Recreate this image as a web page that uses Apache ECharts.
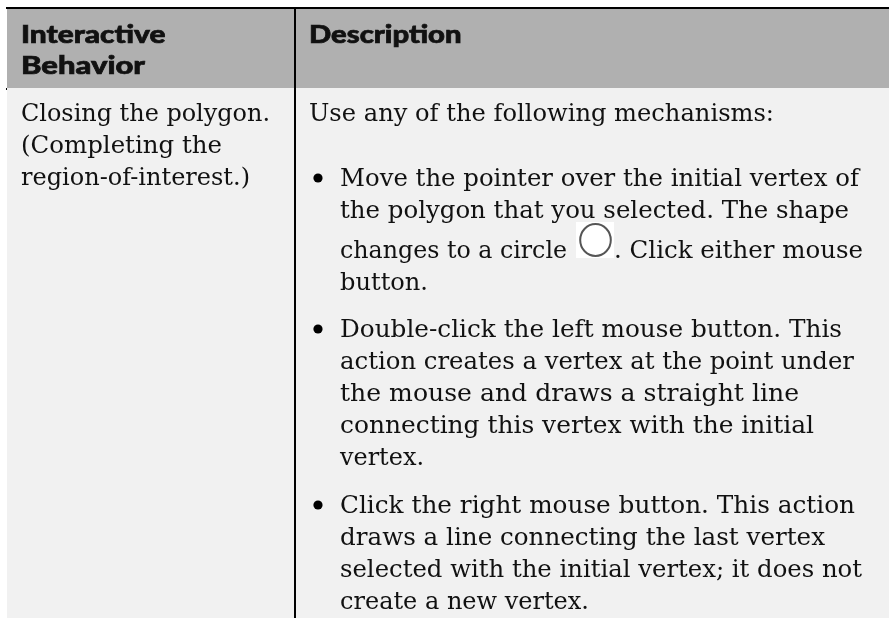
<!DOCTYPE html>
<html><head><meta charset="utf-8">
<style>html,body{margin:0;padding:0;background:#fff}#c{width:889px;height:618px}</style>
<script src="https://cdn.jsdelivr.net/npm/echarts@6/dist/echarts.min.js"></script>
</head><body><div id="c"></div>
<script>
const headerLeft = ["Interactive", "Behavior"];
const headerRight = ["Description"];
const leftLines = ["Closing the polygon.", "(Completing the", "region-of-interest.)"];
const intro = ["Use any of the following mechanisms:"];
const bullet1 = ["Move the pointer over the initial vertex of", "the polygon that you selected. The shape", "changes to a circle", ". Click either mouse", "button."];
const bullet2 = ["Double-click the left mouse button. This", "action creates a vertex at the point under", "the mouse and draws a straight line", "connecting this vertex with the initial", "vertex."];
const bullet3 = ["Click the right mouse button. This action", "draws a line connecting the last vertex", "selected with the initial vertex; it does not", "create a new vertex."];

const SERIF = '"DejaVu Serif"', HF = '900 25px Lato';
const measure = document.createElement('canvas').getContext('2d');
const els = [];
const rect = (x,y,w,h,fill)=>els.push({type:'rect',shape:{x,y,width:w,height:h},style:{fill},silent:true});
const txt = (s,x,y,right,o={})=>{
  const font=o.font||'24px '+SERIF;
  measure.font=font;
  measure.textRendering=o.heavy?'optimizeSpeed':'auto';
  const w=measure.measureText(s).width;
  els.push({type:'text',x,y,zlevel:o.heavy?1:0,scaleX:(right-x)/w,style:{text:s,x:0,y:0,fill:'#111',font,verticalAlign:'middle',stroke:o.stroke?'#111':null,lineWidth:o.stroke||0},silent:true});
};
rect(7,8,882,80,'#b0b0b0');
rect(7,88,882,530,'#f1f1f1');
rect(6,7,883,2,'#000');
rect(294,8,2,610,'#000');
rect(6,88,1,2,'#000');
const hopt={font:HF,heavy:true,stroke:0.7};
txt(headerLeft[0],21,34.5,165,hopt);
txt(headerLeft[1],21,66,145,hopt);
txt(headerRight[0],309,34.5,461,hopt);
const leftEnds=[270,222,250];
leftLines.forEach((s,i)=>txt(s,21,115+i*32,leftEnds[i]));
txt(intro[0],309,115,774);
const BX=318, TX=340;
const bul=(y)=>els.push({type:'circle',shape:{cx:BX,cy:y,r:4.6},style:{fill:'#000'},silent:true});
bul(178);
txt(bullet1[0],TX,180,859); txt(bullet1[1],TX,212,849);
txt(bullet1[2],TX,252,567); txt(bullet1[3],614,252,863);
txt(bullet1[4],TX,284,428);
rect(576,222,38,36,'#fff');
els.push({type:'ellipse',shape:{cx:595.5,cy:240,rx:15.3,ry:16},style:{fill:'none',stroke:'#555',lineWidth:2},silent:true});
bul(329);
const ends2=[842,854,799,814,424];
bullet2.forEach((s,i)=>txt(s,TX,331+i*32,ends2[i]));
bul(505);
const ends3=[855,825,862,589];
bullet3.forEach((s,i)=>txt(s,TX,507+i*32,ends3[i]));
const chart=echarts.init(document.getElementById('c'),null,{renderer:'canvas'});
chart.setOption({animation:false,graphic:{elements:els}});
try{
  const zr=chart.getZr(), layer=zr.painter.getLayer(1);
  layer.ctx.textRendering='optimizeSpeed';
  zr.painter.refresh();
}catch(e){}
</script></body></html>
